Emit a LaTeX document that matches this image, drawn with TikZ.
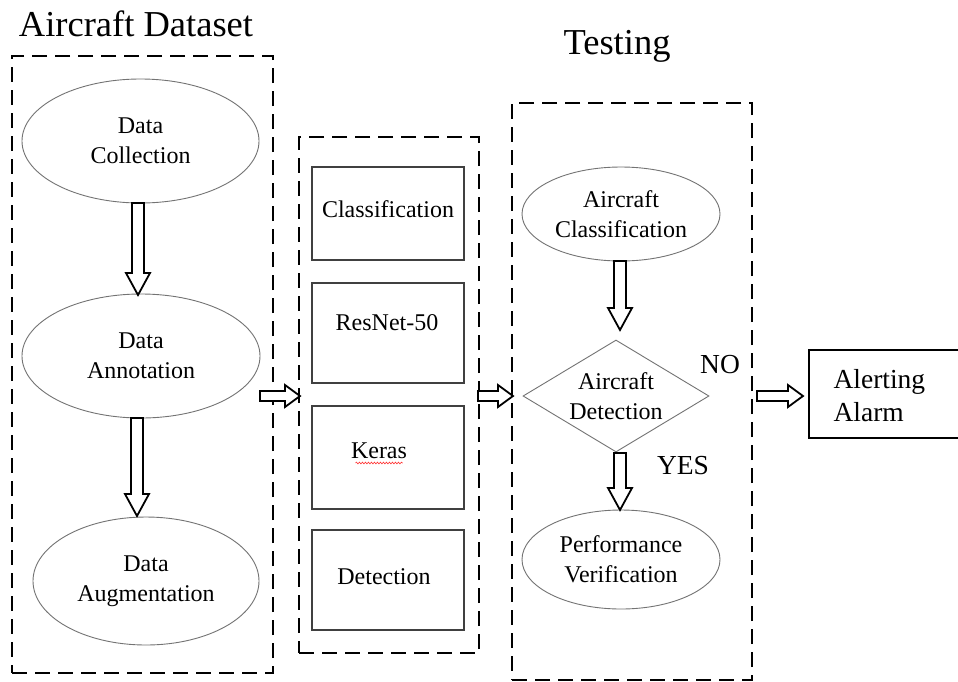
\documentclass[tikz,border=0pt]{standalone}
\usepackage{fontspec}
\setmainfont{Liberation Serif}
\usetikzlibrary{shapes.geometric,calc,decorations.pathmorphing}
\newcommand\downarrowblk[2]{%
  \path let \p1=(#1), \p2=(#2) in
    [draw=black, line width=1.8pt, fill=white, line join=miter]
    (\x1-6pt,\y1) -- (\x1-6pt,\y2+22pt) -- (\x1-12pt,\y2+22pt) -- (\x1,\y2)
    -- (\x1+12pt,\y2+22pt) -- (\x1+6pt,\y2+22pt) -- (\x1+6pt,\y1) -- cycle;}
\newcommand\rightarrowblk[2]{%
  \path let \p1=(#1), \p2=(#2) in
    [draw=black, line width=1.8pt, fill=white, line join=miter]
    (\x1,\y1+5pt) -- (\x2-15pt,\y1+5pt) -- (\x2-15pt,\y1+11pt) -- (\x2,\y1)
    -- (\x2-15pt,\y1-11pt) -- (\x2-15pt,\y1-5pt) -- (\x1,\y1-5pt) -- cycle;}
\begin{document}
\begin{tikzpicture}[x=1pt,y=-1pt,
  body/.style={font=\fontsize{24}{30}\selectfont, align=center},
  frame/.style={draw=black, line width=2.6pt, dash pattern=on 15pt off 8pt, rectangle, inner sep=0pt},
  ell/.style={ellipse, draw=black!55, line width=0.9pt, inner sep=0pt, body},
  box/.style={rectangle, draw=black!75, line width=1.1pt, inner sep=0pt},
  bigtitle/.style={font=\fontsize{36.5}{40}\selectfont},
  lbl/.style={font=\fontsize{27.5}{33}\selectfont}]
\useasboundingbox (0,0) rectangle (958,681);
\fill[white] (0,0) rectangle (958,681);

% frames
\node[frame, minimum width=261pt, minimum height=617pt] (F1) at (142.5,364.5) {};
\node[frame, minimum width=180pt, minimum height=516pt] (F2) at (389,395) {};
\node[frame, minimum width=240pt, minimum height=577pt] (F3) at (632,391.5) {};

% titles
\node[bigtitle] (T1) at (136,24) {Aircraft Dataset};
\node[bigtitle] (T2) at (617,46) {Testing};

% left column
\node[ell, minimum width=237pt, minimum height=124pt] (E1) at (140.5,141) {Data\\Collection};
\node[ell, minimum width=238pt, minimum height=124pt] (E2) at (141,356) {Data\\Annotation};
\node[ell, minimum width=226pt, minimum height=128pt] (E3) at (146,581) {Data\\Augmentation};
\coordinate (A1s) at (138,203);
\coordinate (A1e) at (138,295);
\coordinate (A2s) at (137,418);
\coordinate (A2e) at (137,516);
\downarrowblk{A1s}{A1e}
\downarrowblk{A2s}{A2e}

% middle column
\node[box, minimum width=152pt, minimum height=93pt] (B1) at (388,213.5) {};
\node[box, minimum width=152pt, minimum height=100pt] (B2) at (388,333) {};
\node[box, minimum width=152pt, minimum height=103pt] (B3) at (388,457.5) {};
\node[box, minimum width=152pt, minimum height=100pt] (B4) at (388,580) {};
\node[body] (L1) at (388,209) {Classification};
\node[body] (L2) at (387,323) {ResNet-50};
\node[body] (L3) at (379,451) {Keras};
\node[body] (L4) at (384,577) {Detection};
\draw[red!80, line width=0.6pt, decorate, decoration={snake, amplitude=0.9pt, segment length=3pt}]
  ($(L3.west)+(8,12)$) -- ($(L3.east)+(-8,12)$);

% right column
\node[ell, minimum width=198pt, minimum height=94pt] (E4) at (621,214) {Aircraft\\Classification};
\node[diamond, draw=black!55, line width=0.9pt, inner sep=0pt, aspect=1.66,
      minimum width=186pt, minimum height=112pt, body] (D) at (616,396) {Aircraft\\Detection};
\node[ell, minimum width=198pt, minimum height=99pt] (E5) at (621,559.5) {Performance\\Verification};
\coordinate (A3s) at (620,261);
\coordinate (A3e) at (620,330);
\coordinate (A4s) at (620,453);
\coordinate (A4e) at (620,510);
\downarrowblk{A3s}{A3e}
\downarrowblk{A4s}{A4e}
\node[lbl] (NO) at (720,365) {NO};
\node[lbl] (YES) at (683,466) {YES};

% alerting
\node[box, draw=black, line width=1.8pt, minimum width=160pt, minimum height=88pt, anchor=west] (AL) at (808,394) {};
\node[lbl, align=left, anchor=west] (ALt) at (830,396) {Alerting\\Alarm};

% horizontal arrows
\coordinate (H1s) at (260,396);
\coordinate (H1e) at (300,396);
\coordinate (H2s) at (478,396);
\coordinate (H2e) at (513,396);
\coordinate (H3s) at (757,396);
\coordinate (H3e) at (803,396);
\rightarrowblk{H1s}{H1e}
\rightarrowblk{H2s}{H2e}
\rightarrowblk{H3s}{H3e}
\end{tikzpicture}
\end{document}
